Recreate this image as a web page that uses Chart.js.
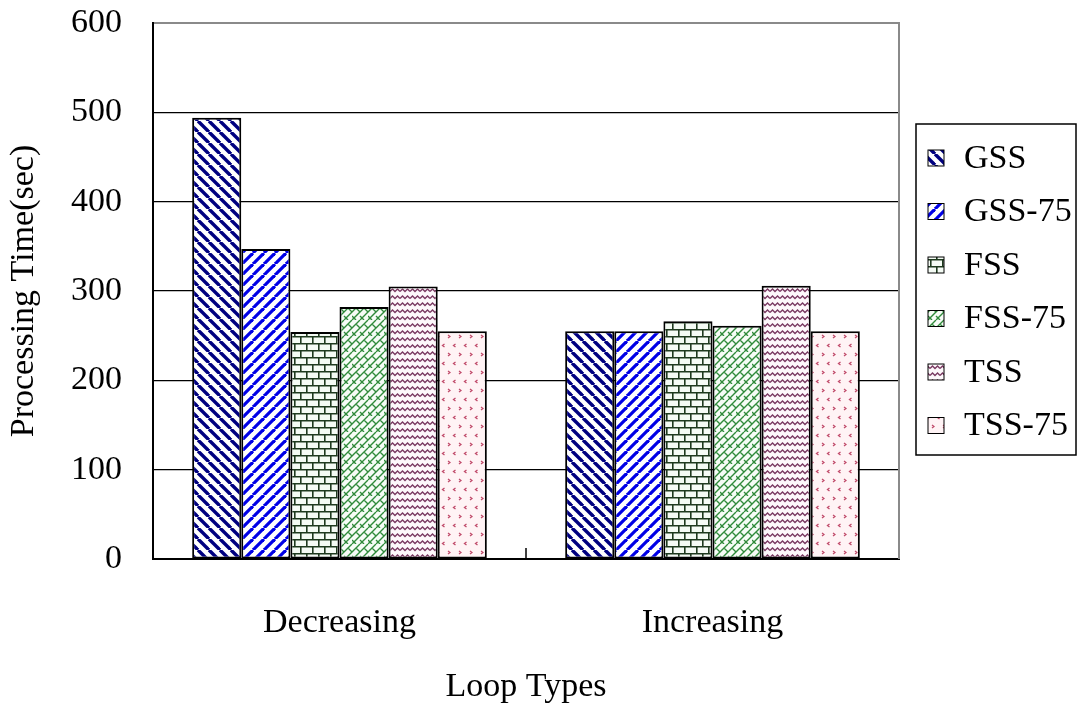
<!DOCTYPE html>
<html>
<head>
<meta charset="utf-8">
<script src="https://cdn.jsdelivr.net/npm/chart.js@4.4.0/dist/chart.umd.min.js"></script>
<style>
  html, body { margin: 0; padding: 0; background: #fff; }
  #wrap { width: 1078px; height: 707px; position: relative; }
</style>
</head>
<body>
<div id="wrap"><canvas id="c" width="1078" height="707"></canvas></div>
<script>
const categories = ['Decreasing', 'Increasing'];
const seriesNames = ['GSS', 'GSS-75', 'FSS', 'FSS-75', 'TSS', 'TSS-75'];
const gss    = [494, 255];
const gss75  = [347, 255];
const fss    = [254, 266];
const fss75  = [282, 261];
const tss    = [305, 306];
const tss75  = [255, 255];
const yTicks = [0, 100, 200, 300, 400, 500, 600];
const xTitle = 'Loop Types';
const yTitle = 'Processing Time(sec)';

const FONT = "'Liberation Serif', 'Times New Roman', serif";

function tile(w, h, bg, draw) {
  const c = document.createElement('canvas');
  c.width = w; c.height = h;
  const g = c.getContext('2d');
  g.fillStyle = bg; g.fillRect(0, 0, w, h);
  draw(g, w, h);
  return g.createPattern(c, 'repeat');
}

function patGSS() {
  return tile(11, 11, '#ffffff', (g, w, h) => {
    g.strokeStyle = '#000080'; g.lineWidth = 3.4;
    for (const k of [-11, 0, 11]) { g.beginPath(); g.moveTo(k, 0); g.lineTo(k + 11, 11); g.stroke(); }
  });
}
function patGSS75() {
  return tile(11, 11, '#ffffff', (g, w, h) => {
    g.strokeStyle = '#0000e6'; g.lineWidth = 3.2;
    for (const k of [-11, 0, 11]) { g.beginPath(); g.moveTo(k, 11); g.lineTo(k + 11, 0); g.stroke(); }
  });
}
function patFSS() {
  return tile(12, 14, '#f4fbf4', (g, w, h) => {
    g.strokeStyle = '#1e3a1e'; g.lineWidth = 1.6;
    g.beginPath();
    g.moveTo(0, 0.8); g.lineTo(12, 0.8);
    g.moveTo(0, 7.8); g.lineTo(12, 7.8);
    g.moveTo(0.8, 0); g.lineTo(0.8, 7.8);
    g.moveTo(6.8, 7.8); g.lineTo(6.8, 14);
    g.stroke();
  });
}
function patFSS75() {
  return tile(16, 16, '#f6fcf6', (g, w, h) => {
    g.strokeStyle = '#2f8a3a'; g.lineWidth = 1.4;
    g.beginPath();
    for (const k of [0, 8, 16, 24, 32]) { g.moveTo(k - 16, 16); g.lineTo(k, 0); }
    g.moveTo(4, 4); g.lineTo(8, 8);
    g.moveTo(12, 4); g.lineTo(16, 8);
    g.moveTo(-4, 4); g.lineTo(0, 8);
    g.moveTo(8, 12); g.lineTo(12, 16);
    g.moveTo(0, 12); g.lineTo(4, 16);
    g.stroke();
  });
}
function patTSS() {
  return tile(10, 7, '#fdf8fb', (g, w, h) => {
    g.strokeStyle = '#7a3a62'; g.lineWidth = 1.4;
    g.beginPath();
    g.moveTo(0, 4.5); g.lineTo(2.5, 2); g.lineTo(5, 4.5); g.lineTo(7.5, 2); g.lineTo(10, 4.5);
    g.stroke();
  });
}
function patTSS75() {
  return tile(11, 18, '#fff3f5', (g, w, h) => {
    g.strokeStyle = '#c04a6a'; g.lineWidth = 1.3;
    g.beginPath();
    g.moveTo(4.5, 2); g.lineTo(2.5, 3.5); g.lineTo(4.5, 5);
    g.moveTo(8, 11); g.lineTo(10, 12.5); g.lineTo(8, 14);
    g.stroke();
  });
}

const patterns = [patGSS(), patGSS75(), patFSS(), patFSS75(), patTSS(), patTSS75()];
const values = [gss, gss75, fss, fss75, tss, tss75];

const datasets = seriesNames.map((name, i) => ({
  label: name,
  data: values[i],
  backgroundColor: patterns[i],
  borderColor: '#000000',
  borderWidth: 2,
  borderSkipped: false,
  categoryPercentage: 0.79,
  barPercentage: 1.0
}));

const extras = {
  id: 'extras',
  afterDatasetsDraw(chart) {
    const { ctx, chartArea: a, scales } = chart;
    ctx.save();
    ctx.strokeStyle = '#8a8a8a'; ctx.lineWidth = 2;
    ctx.beginPath(); ctx.moveTo(a.right, a.top - 1); ctx.lineTo(a.right, a.bottom); ctx.stroke();
    const xs = scales.x;
    ctx.strokeStyle = '#000'; ctx.lineWidth = 1.5;
    for (let i = 0; i < categories.length - 1; i++) {
      const xm = (xs.getPixelForValue(i) + xs.getPixelForValue(i + 1)) / 2;
      ctx.beginPath(); ctx.moveTo(xm, a.bottom); ctx.lineTo(xm, a.bottom - 11); ctx.stroke();
    }
    ctx.restore();
  },
  afterDraw(chart) {
    const { ctx } = chart;
    const ds = chart.data.datasets;
    const bx = 916, by = 124, bw = 160, bh = 331;
    ctx.save();
    ctx.fillStyle = '#fff';
    ctx.fillRect(bx, by, bw, bh);
    ctx.strokeStyle = '#000'; ctx.lineWidth = 1.5;
    ctx.strokeRect(bx, by, bw, bh);
    ctx.font = '34px ' + FONT;
    ctx.textBaseline = 'middle';
    ctx.textAlign = 'left';
    ds.forEach((d, i) => {
      const cy = 158 + i * 53.5;
      ctx.fillStyle = d.backgroundColor;
      ctx.fillRect(928, cy - 8, 16, 16);
      ctx.strokeStyle = '#000'; ctx.lineWidth = 1;
      ctx.strokeRect(928, cy - 8, 16, 16);
      ctx.fillStyle = '#000';
      ctx.fillText(d.label, 964, cy + 1);
    });
    ctx.restore();
  }
};

new Chart(document.getElementById('c'), {
  type: 'bar',
  data: { labels: categories, datasets },
  options: {
    responsive: false,
    animation: false,
    layout: { padding: { top: 23, right: 179, bottom: 0, left: 4 } },
    plugins: { legend: { display: false }, tooltip: { enabled: false } },
    scales: {
      x: {
        grid: { display: false, drawTicks: false },
        border: { color: '#000', width: 2 },
        ticks: { color: '#000', font: { family: FONT, size: 34 }, padding: 44 },
        title: { display: true, text: xTitle, color: '#000', font: { family: FONT, size: 34 }, padding: { top: 0, bottom: 0 } },
        afterFit(s) { s.height = 148; s.paddingLeft = 0; s.paddingRight = 0; }
      },
      y: {
        min: 0, max: 600,
        afterBuildTicks(s) { s.ticks = yTicks.map(v => ({ value: v })); },
        grid: {
          drawTicks: false,
          color: c => (c.tick && c.tick.value === 600) ? '#8a8a8a' : '#000',
          lineWidth: c => (c.tick && c.tick.value === 600) ? 2 : 1.2
        },
        border: { color: '#000', width: 2 },
        ticks: { color: '#000', font: { family: FONT, size: 34 }, padding: 31 },
        title: { display: true, text: yTitle, color: '#000', font: { family: FONT, size: 34 }, padding: { top: 0, bottom: 0 } },
        afterFit(s) { s.width = 149; s.paddingTop = 0; s.paddingBottom = 0; }
      }
    }
  },
  plugins: [extras]
});
</script>
</body>
</html>
